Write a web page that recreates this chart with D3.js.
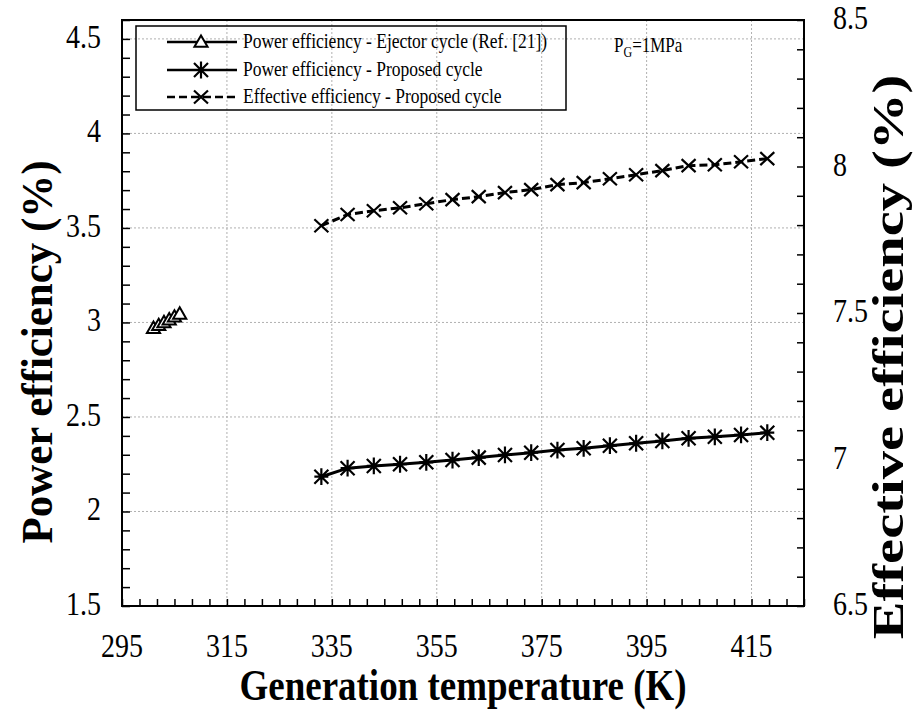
<!DOCTYPE html>
<html><head><meta charset="utf-8">
<script src="https://cdn.jsdelivr.net/npm/d3@7"></script>
<style>body{margin:0;background:#fff}svg{display:block}text{font-family:"Liberation Serif","Times New Roman",serif}</style>
</head><body>
<svg id="c" width="924" height="715"></svg>
<script>
// ---- data ----
const xTicks = [295, 315, 335, 355, 375, 395, 415];
const yLeftTicks = [1.5, 2, 2.5, 3, 3.5, 4, 4.5];
const yRightTicks = [6.5, 7, 7.5, 8, 8.5];
const ejectorT = [301, 302, 303, 304, 305, 306];
const ejectorPower = [2.97, 2.985, 3.0, 3.015, 3.03, 3.045];
const proposedT = [333, 338, 343, 348, 353, 358, 363, 368, 373, 378, 383, 388, 393, 398, 403, 408, 413, 418];
const proposedPower = [2.184, 2.229, 2.241, 2.250, 2.260, 2.272, 2.285, 2.299, 2.311, 2.325, 2.334, 2.348, 2.361, 2.373, 2.387, 2.395, 2.405, 2.417];
const proposedEffective = [7.798, 7.836, 7.849, 7.859, 7.873, 7.887, 7.897, 7.911, 7.921, 7.938, 7.945, 7.958, 7.972, 7.986, 8.003, 8.006, 8.016, 8.027];
const legendLabels = ["Power efficiency - Ejector cycle (Ref. [21])", "Power efficiency - Proposed cycle", "Effective efficiency - Proposed cycle"];

// ---- layout ----
const L = 122, R = 804, T = 20, B = 606;
const SY = 1.17; // vertical stretch of the lettering
const FONT = "'Liberation Serif', 'Times New Roman', serif";
const svg = d3.select("#c");
const x = d3.scaleLinear().domain([295, 425]).range([L, R]);
const yL = d3.scaleLinear().domain([1.5, 4.6]).range([B, T]);
const yR = d3.scaleLinear().domain([6.5, 8.5]).range([B, T]);

function stretchedText(parent, px, py, str, size, opts = {}) {
  const sc = opts.scale || `scale(1,${SY})`;
  const t = parent.append("text")
    .attr("transform", `translate(${px},${py})${opts.rotate ? ` rotate(${opts.rotate})` : ""} ${sc}`)
    .attr("font-size", size).style("font-family", FONT).attr("fill", "#000")
    .attr("text-anchor", opts.anchor || "start");
  if (opts.bold) t.attr("font-weight", "bold");
  if (str !== null) t.text(str);
  return t;
}

// grid
const grid = svg.append("g").attr("stroke", "#b0b0b0").attr("stroke-width", 1).attr("stroke-dasharray", "2,2");
xTicks.slice(1).forEach(t => grid.append("line").attr("x1", x(t)).attr("x2", x(t)).attr("y1", T).attr("y2", B));
yLeftTicks.slice(1).forEach(t => grid.append("line").attr("x1", L).attr("x2", R).attr("y1", yL(t)).attr("y2", yL(t)));

// axes (inward ticks)
const minorX = d3.range(295, 425.01, 20 / 6);
const gx = svg.append("g").attr("transform", `translate(0,${B})`)
  .call(d3.axisBottom(x).tickValues(minorX).tickSize(-7).tickFormat(""));
const minorYL = d3.range(1.5, 4.61, 0.1);
const gy = svg.append("g").attr("transform", `translate(${L},0)`)
  .call(d3.axisLeft(yL).tickValues(minorYL).tickSize(-8).tickFormat(""));
const minorYR = d3.range(6.5, 8.51, 0.1);
const gr = svg.append("g").attr("transform", `translate(${R},0)`)
  .call(d3.axisRight(yR).tickValues(minorYR).tickSize(-7).tickFormat(""));
[gx, gy, gr].forEach(g => {
  g.select(".domain").remove();
  g.selectAll("line").attr("stroke", "#000").attr("stroke-width", 1.5);
});
// tick labels placed by the scales
const labels = svg.append("g");
xTicks.forEach(t => stretchedText(labels, x(t), B + 51, String(t), 28, { anchor: "middle" }));
yLeftTicks.forEach(t => stretchedText(labels, L - 21, yL(t) + 9, String(t), 28, { anchor: "end" }));
yRightTicks.forEach(t => stretchedText(labels, R + 29, yR(t) + 9, String(t), 28, { anchor: "start" }));

// frame
svg.append("rect").attr("x", L).attr("y", T).attr("width", R - L).attr("height", B - T)
  .attr("fill", "none").attr("stroke", "#000").attr("stroke-width", 2);

// markers
function triangle(g, cx, cy) {
  g.append("path").attr("d", d3.symbol(d3.symbolTriangle, 75)()).attr("transform", `translate(${cx},${cy + 1})`)
    .attr("fill", "#fff").attr("stroke", "#000").attr("stroke-width", 2);
}
function star(g, cx, cy) {
  const s = 7;
  g.append("path").attr("d", `M${cx - s},${cy - s}L${cx + s},${cy + s}M${cx - s},${cy + s}L${cx + s},${cy - s}M${cx},${cy - s * 1.2}L${cx},${cy + s * 1.2}M${cx - s},${cy}L${cx + s},${cy}`)
    .attr("stroke", "#000").attr("stroke-width", 2.2).attr("fill", "none");
}
function cross(g, cx, cy) {
  const s = 7, h = 6.5;
  g.append("path").attr("d", `M${cx - s},${cy - h}L${cx + s},${cy + h}M${cx - s},${cy + h}L${cx + s},${cy - h}`)
    .attr("stroke", "#000").attr("stroke-width", 2.2).attr("fill", "none");
}

// series
const plot = svg.append("g");
const lineL = d3.line().x(d => x(d[0])).y(d => yL(d[1]));
const lineR = d3.line().x(d => x(d[0])).y(d => yR(d[1]));
const ej = ejectorT.map((t, i) => [t, ejectorPower[i]]);
const pp = proposedT.map((t, i) => [t, proposedPower[i]]);
const pe = proposedT.map((t, i) => [t, proposedEffective[i]]);
plot.append("path").attr("d", lineL(ej)).attr("fill", "none").attr("stroke", "#000").attr("stroke-width", 2.5);
plot.append("path").attr("d", lineL(pp)).attr("fill", "none").attr("stroke", "#000").attr("stroke-width", 3);
plot.append("path").attr("d", lineR(pe)).attr("fill", "none").attr("stroke", "#000").attr("stroke-width", 3).attr("stroke-dasharray", "8,4");
ej.forEach(d => triangle(plot, x(d[0]), yL(d[1])));
pp.forEach(d => star(plot, x(d[0]), yL(d[1])));
pe.forEach(d => cross(plot, x(d[0]), yR(d[1])));

// legend
const lg = svg.append("g");
lg.append("rect").attr("x", 136).attr("y", 26).attr("width", 430).attr("height", 84)
  .attr("fill", "none").attr("stroke", "#000").attr("stroke-width", 1.5);
const rows = [42, 70, 97];
legendLabels.forEach((lab, i) => {
  const yy = rows[i];
  const ln = lg.append("line").attr("x1", 167).attr("x2", 237).attr("y1", yy).attr("y2", yy)
    .attr("stroke", "#000").attr("stroke-width", 2.5);
  if (i === 2) ln.attr("stroke-dasharray", "8,4");
  if (i === 0) triangle(lg, 201, yy); else if (i === 1) star(lg, 201, yy); else cross(lg, 201, yy);
  stretchedText(lg, 243, yy + 6, lab, 17.5);
});
const pg = stretchedText(svg, 614, 52, null, 17);
pg.append("tspan").text("P");
pg.append("tspan").attr("font-size", 12).attr("dy", 4).text("G");
pg.append("tspan").attr("dy", -4).text("=1MPa");

// titles
stretchedText(svg, 463, 700, "Generation temperature (K)", 37, { anchor: "middle", bold: true });
stretchedText(svg, 52, 352, "Power efficiency (%)", 37, { anchor: "middle", bold: true, rotate: -90, scale: "scale(1.16,1.2)" });
stretchedText(svg, 903, 357, "Effective efficiency (%)", 42, { anchor: "middle", bold: true, rotate: -90, scale: "scale(1.345,1.05)" });
</script>
</body></html>
